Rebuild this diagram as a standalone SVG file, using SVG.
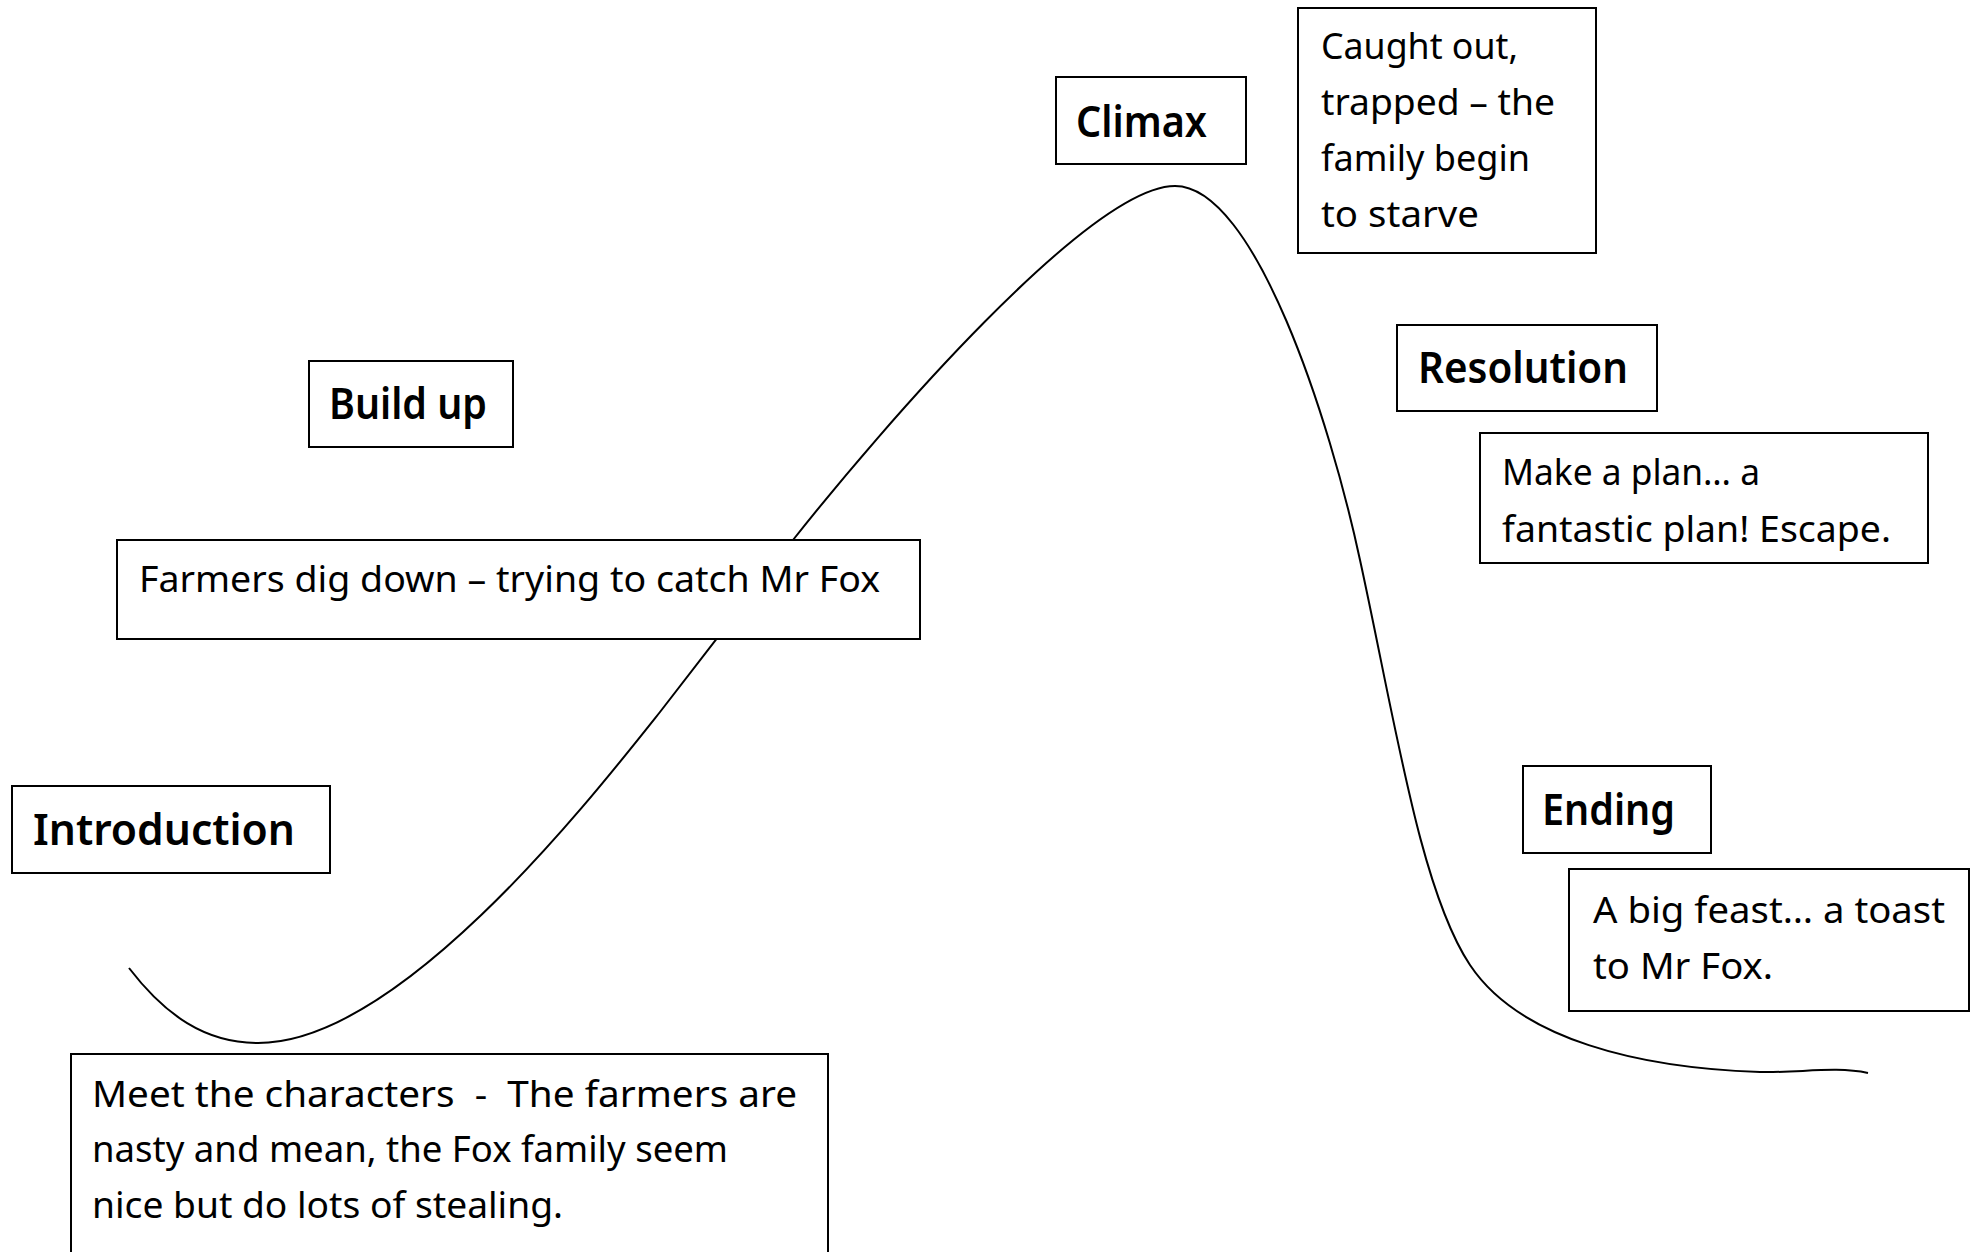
<svg xmlns="http://www.w3.org/2000/svg" width="1974" height="1252" viewBox="0 0 1974 1252">
<style>
.box{fill:#ffffff;stroke:#000000;stroke-width:2}
.title{font-family:"Noto Sans","DejaVu Sans",sans-serif;font-size:44px;font-weight:600;fill:#000000}
.body{font-family:"Noto Sans","DejaVu Sans",sans-serif;font-size:36px;fill:#000000;white-space:pre}
.curve{fill:none;stroke:#000000;stroke-width:2}
</style>
<rect x="0" y="0" width="1974" height="1252" fill="#ffffff"/>
<g id="connectors">
<path class="curve" d="M129,968 C165,1015 205,1043 258,1043 C400,1043 590,800 660,712 L793,540 C880,430 1090,186 1175,186 C1255,186 1330,420 1360,560 C1395,720 1420,890 1470,965 C1520,1040 1640,1068 1760,1072 C1800,1073 1835,1066 1868,1073"/>
</g>
<g id="introduction">
<rect class="box" x="12" y="786" width="318" height="87"/>
<text class="title" x="33" y="845" textLength="262" lengthAdjust="spacingAndGlyphs">Introduction</text>
</g>
<g id="introduction-text">
<rect class="box" x="71" y="1054" width="757" height="220"/>
<text class="body" xml:space="preserve" x="92" y="1107" textLength="705" lengthAdjust="spacingAndGlyphs">Meet the characters  -  The farmers are</text>
<text class="body" x="92" y="1162" textLength="636" lengthAdjust="spacingAndGlyphs">nasty and mean, the Fox family seem</text>
<text class="body" x="92" y="1218" textLength="471" lengthAdjust="spacingAndGlyphs">nice but do lots of stealing.</text>
</g>
<g id="build-up">
<rect class="box" x="309" y="361" width="204" height="86"/>
<text class="title" x="329" y="419" textLength="158" lengthAdjust="spacingAndGlyphs">Build up</text>
</g>
<g id="build-up-text">
<rect class="box" x="117" y="540" width="803" height="99"/>
<text class="body" x="139" y="592" textLength="741" lengthAdjust="spacingAndGlyphs">Farmers dig down – trying to catch Mr Fox</text>
</g>
<g id="climax">
<rect class="box" x="1056" y="77" width="190" height="87"/>
<text class="title" x="1076" y="137" textLength="131" lengthAdjust="spacingAndGlyphs">Climax</text>
</g>
<g id="climax-text">
<rect class="box" x="1298" y="8" width="298" height="245"/>
<text class="body" x="1321" y="59" textLength="197" lengthAdjust="spacingAndGlyphs">Caught out,</text>
<text class="body" x="1321" y="115" textLength="234" lengthAdjust="spacingAndGlyphs">trapped – the</text>
<text class="body" x="1321" y="171" textLength="209" lengthAdjust="spacingAndGlyphs">family begin</text>
<text class="body" x="1321" y="227" textLength="158" lengthAdjust="spacingAndGlyphs">to starve</text>
</g>
<g id="resolution">
<rect class="box" x="1397" y="325" width="260" height="86"/>
<text class="title" x="1418" y="383" textLength="210" lengthAdjust="spacingAndGlyphs">Resolution</text>
</g>
<g id="resolution-text">
<rect class="box" x="1480" y="433" width="448" height="130"/>
<text class="body" x="1502" y="485" textLength="258" lengthAdjust="spacingAndGlyphs">Make a plan… a</text>
<text class="body" x="1502" y="542" textLength="389" lengthAdjust="spacingAndGlyphs">fantastic plan! Escape.</text>
</g>
<g id="ending">
<rect class="box" x="1523" y="766" width="188" height="87"/>
<text class="title" x="1542" y="825" textLength="133" lengthAdjust="spacingAndGlyphs">Ending</text>
</g>
<g id="ending-text">
<rect class="box" x="1569" y="869" width="400" height="142"/>
<text class="body" x="1593" y="923" textLength="352" lengthAdjust="spacingAndGlyphs">A big feast… a toast</text>
<text class="body" x="1593" y="979" textLength="180" lengthAdjust="spacingAndGlyphs">to Mr Fox.</text>
</g>
</svg>
